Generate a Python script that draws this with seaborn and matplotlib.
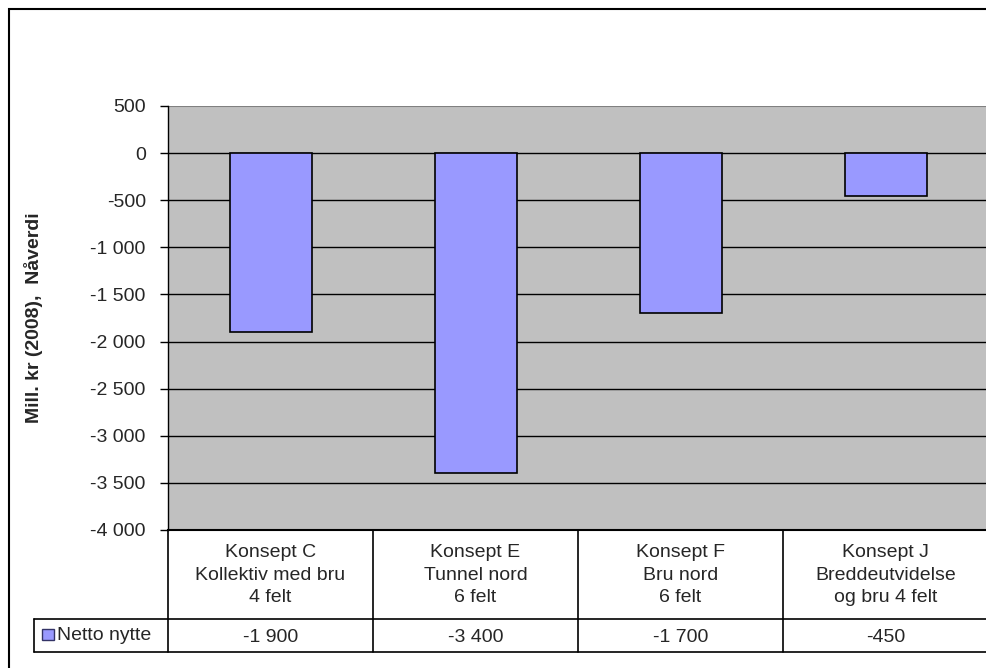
import matplotlib
matplotlib.use("Agg")
import matplotlib.pyplot as plt
import matplotlib.patches as mpatches
from matplotlib.lines import Line2D
import seaborn as sns
import pandas as pd

# data
konsepter = ["Konsept C\nKollektiv med bru\n4 felt",
             "Konsept E\nTunnel nord\n6 felt",
             "Konsept F\nBru nord\n6 felt",
             "Konsept J\nBreddeutvidelse\nog bru 4 felt"]
netto_nytte = [-1900, -3400, -1700, -450]
verdi_tekst = ["-1 900", "-3 400", "-1 700", "-450"]
y_ticks = [500, 0, -500, -1000, -1500, -2000, -2500, -3000, -3500, -4000]
y_tick_labels = ["500", "0", "-500", "-1 000", "-1 500", "-2 000",
                 "-2 500", "-3 000", "-3 500", "-4 000"]
serie = "Netto nytte"

sns.set_style("white")
plt.rcParams['font.family'] = ['Liberation Sans', 'DejaVu Sans']
fs = 14

W, H = 986, 668
fig = plt.figure(figsize=(W / 100, H / 100), dpi=100)
fig.patch.set_facecolor("white")

# plot area in pixel terms
px_left, px_right, px_top, px_bottom = 168, 988, 106, 530
ax = fig.add_axes([px_left / W, 1 - px_bottom / H,
                   (px_right - px_left) / W, (px_bottom - px_top) / H])
ax.set_facecolor("#c0c0c0")

df = pd.DataFrame({"konsept": konsepter, "verdi": netto_nytte})
sns.barplot(data=df, x="konsept", y="verdi", color="#9999ff", width=0.4,
            edgecolor="black", linewidth=1.2, saturation=1, ax=ax, zorder=3)

ax.set_xlim(-0.5, 3.5)
ax.set_ylim(-4000, 500)
ax.set_yticks(y_ticks)
ax.set_yticklabels(y_tick_labels, fontsize=fs)
ax.tick_params(axis="y", direction="out", length=6, width=1, pad=10, color="black", left=True)
ax.tick_params(axis="x", bottom=False, labelbottom=False)
ax.set_xlabel("")
ax.set_ylabel("")

for t in y_ticks[1:-1]:
    ax.axhline(t, color="black", lw=1, zorder=1)

for side in ["top", "right"]:
    ax.spines[side].set_visible(False)
ax.axhline(500, color="#808080", lw=1.5, zorder=1)
ax.spines["left"].set_color("black")
ax.spines["bottom"].set_color("black")
ax.spines["left"].set_linewidth(1)
ax.spines["bottom"].set_linewidth(1.5)

fig.text(34 / W, 1 - 318 / H, "Mill. kr (2008),  Nåverdi", rotation=90,
         fontsize=fs, fontweight="bold", ha="center", va="center")

# data table below the plot
trans = ax.get_xaxis_transform()
def yfrac(py):
    return (px_bottom - py) / (px_bottom - px_top)

row1, row2 = 619, 652
for xb in [-0.5, 0.5, 1.5, 2.5]:
    ax.add_line(Line2D([xb, xb], [0, yfrac(row2)], transform=trans,
                       color="black", lw=1.2, clip_on=False))
for py in [row1, row2]:
    fig.add_artist(Line2D([34 / W, 1.0], [1 - py / H, 1 - py / H],
                          color="black", lw=1.2))
fig.add_artist(Line2D([34 / W, 34 / W], [1 - row1 / H, 1 - row2 / H],
                      color="black", lw=1.2))

for i, (k, v) in enumerate(zip(konsepter, verdi_tekst)):
    ax.text(i, yfrac(575), k, transform=trans, ha="center", va="center",
            fontsize=fs, linespacing=1.4, clip_on=False)
    ax.text(i, yfrac(637), v, transform=trans, ha="center", va="center",
            fontsize=fs, clip_on=False)

fig.add_artist(mpatches.Rectangle((42 / W, 1 - 640 / H), 12 / W, 11 / H,
                                  facecolor="#9999ff", edgecolor="#333366", lw=1))
fig.text(57 / W, 1 - 636 / H, serie, fontsize=fs, ha="left", va="center")

# outer chart frame
fig.add_artist(mpatches.Rectangle((9 / W, -0.05), 1.2, 1 - 9 / H + 0.05,
                                  fill=False, edgecolor="black", lw=1.5))

fig.savefig("out.png", dpi=100)
